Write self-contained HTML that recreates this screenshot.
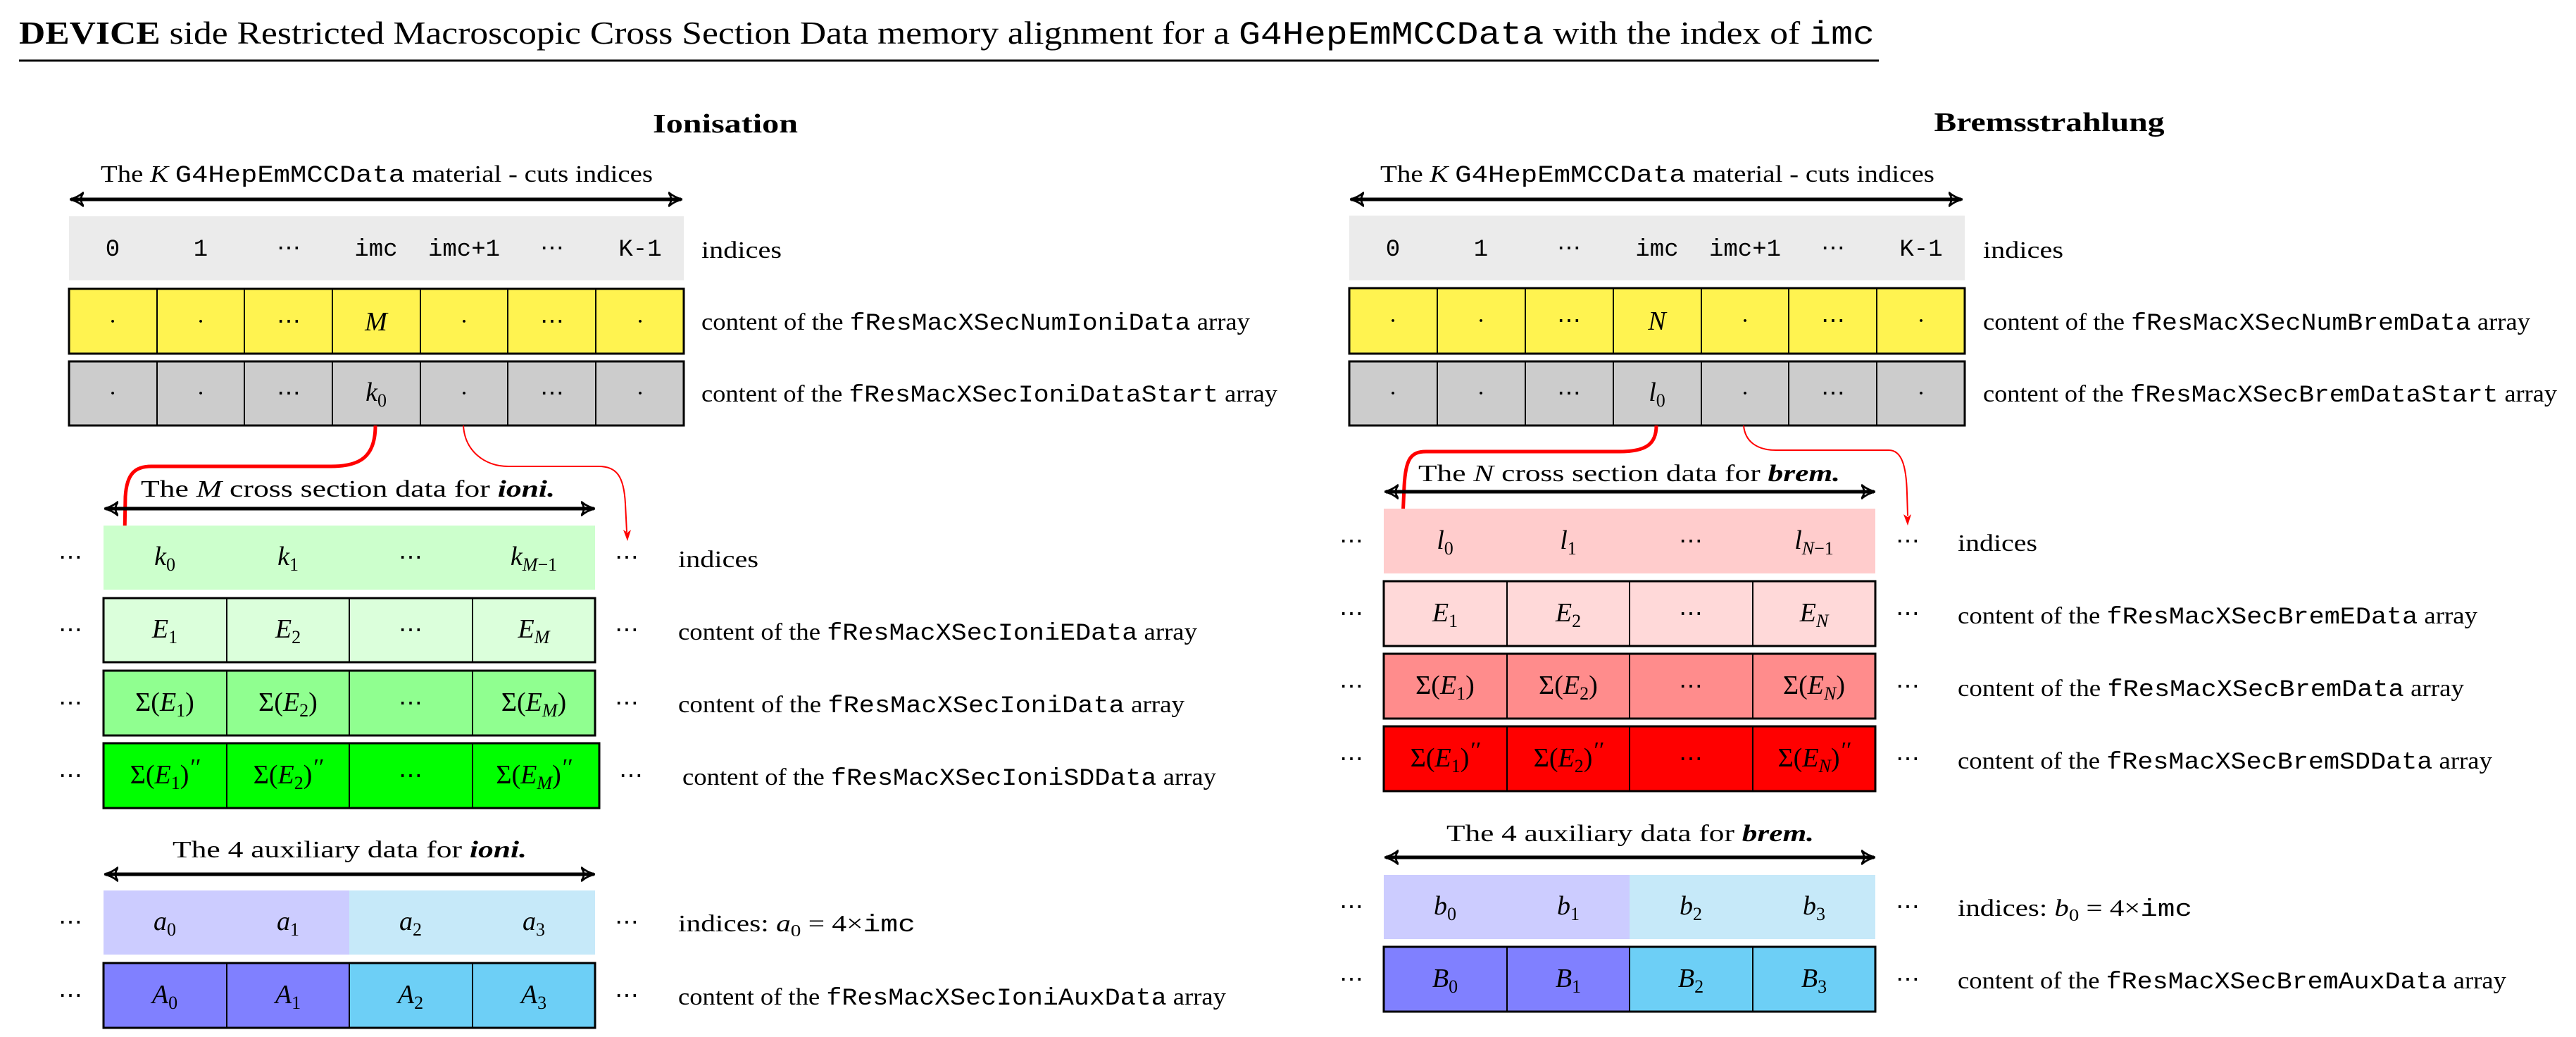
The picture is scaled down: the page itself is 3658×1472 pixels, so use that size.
<!DOCTYPE html>
<html><head><meta charset="utf-8"><style>
html,body{margin:0;padding:0;background:#fff;}
svg{display:block;}
text{font-family:"Liberation Serif",serif;fill:#000;}
.t{font-size:34px;}
.m{font-size:38px;font-style:italic;}
.mono{font-family:"Liberation Mono",monospace;}
.c{text-anchor:middle;}
.s{font-size:26px;font-style:italic;}
.n{font-style:normal;}
.p{font-size:34px;font-style:italic;}
</style></head><body>
<svg width="3658" height="1472" viewBox="0 0 3658 1472" xmlns="http://www.w3.org/2000/svg">
<defs>
<marker id="ah" viewBox="0 0 10 10" refX="9" refY="5" markerWidth="4" markerHeight="6" orient="auto-start-reverse" markerUnits="strokeWidth">
<path d="M0,0 Q4,5 0,10 M0,0 Q5,4 10,5 Q5,6 0,10" fill="none" stroke="#000" stroke-width="1.4"/></marker>
</defs>

<!-- Title -->
<text x="27" y="62" font-size="46" textLength="2635" lengthAdjust="spacingAndGlyphs"><tspan font-weight="bold">DEVICE</tspan> side Restricted Macroscopic Cross Section Data memory alignment for a <tspan class="mono">G4HepEmMCCData</tspan> with the index of <tspan class="mono">imc</tspan></text>
<line x1="27" y1="86" x2="2668" y2="86" stroke="#000" stroke-width="3"/>

<text x="1030" y="188" font-size="38" font-weight="bold" class="c" textLength="206" lengthAdjust="spacingAndGlyphs">Ionisation</text>
<text x="2910" y="186" font-size="38" font-weight="bold" class="c" textLength="327" lengthAdjust="spacingAndGlyphs">Bremsstrahlung</text>

<!-- ================= LEFT (Ionisation) ================= -->
<text x="143" y="258" class="t" textLength="784" lengthAdjust="spacingAndGlyphs">The <tspan font-style="italic">K</tspan> <tspan class="mono">G4HepEmMCCData</tspan> material - cuts indices</text>
<line x1="101" y1="283" x2="967" y2="283" stroke="#000" stroke-width="5" marker-start="url(#ah)" marker-end="url(#ah)"/>

<rect x="98" y="307" width="873" height="91" fill="#ebebeb"/>
<g class="t" font-size="32">
<text x="160" y="363" class="mono c">0</text><text x="285" y="363" class="mono c">1</text>
<text x="410" y="363" class="c">⋯</text><text x="534" y="363" class="mono c">imc</text>
<text x="659" y="363" class="mono c">imc+1</text><text x="784" y="363" class="c">⋯</text>
<text x="909" y="363" class="mono c">K-1</text></g>
<text x="996" y="366" class="t" textLength="114" lengthAdjust="spacingAndGlyphs">indices</text>

<rect x="98" y="410" width="873" height="92" fill="#fff350" stroke="#000" stroke-width="3"/>
<g stroke="#000" stroke-width="2"><line x1="223" y1="410" x2="223" y2="502"/><line x1="347" y1="410" x2="347" y2="502"/><line x1="472" y1="410" x2="472" y2="502"/><line x1="597" y1="410" x2="597" y2="502"/><line x1="721" y1="410" x2="721" y2="502"/><line x1="846" y1="410" x2="846" y2="502"/></g>
<g class="t"><text x="160" y="467" class="c">·</text><text x="285" y="467" class="c">·</text><text x="410" y="467" class="c">⋯</text><text x="534" y="469" class="m c">M</text><text x="659" y="467" class="c">·</text><text x="784" y="467" class="c">⋯</text><text x="909" y="467" class="c">·</text></g>
<text x="996" y="468" class="t" textLength="779" lengthAdjust="spacingAndGlyphs">content of the <tspan class="mono">fResMacXSecNumIoniData</tspan> array</text>

<rect x="98" y="513" width="873" height="91" fill="#cccccc" stroke="#000" stroke-width="3"/>
<g stroke="#000" stroke-width="2"><line x1="223" y1="513" x2="223" y2="604"/><line x1="347" y1="513" x2="347" y2="604"/><line x1="472" y1="513" x2="472" y2="604"/><line x1="597" y1="513" x2="597" y2="604"/><line x1="721" y1="513" x2="721" y2="604"/><line x1="846" y1="513" x2="846" y2="604"/></g>
<g class="t"><text x="160" y="569" class="c">·</text><text x="285" y="569" class="c">·</text><text x="410" y="569" class="c">⋯</text><text x="534" y="569" class="m c">k<tspan class="s n" dy="8">0</tspan></text><text x="659" y="569" class="c">·</text><text x="784" y="569" class="c">⋯</text><text x="909" y="569" class="c">·</text></g>
<text x="996" y="570" class="t" textLength="818" lengthAdjust="spacingAndGlyphs">content of the <tspan class="mono">fResMacXSecIoniDataStart</tspan> array</text>

<!-- red connectors left -->
<path d="M533,604 C533,648 512,662 470,662 L215,662 C192,662 180,672 178,705 L177,760" fill="none" stroke="#f00" stroke-width="5"/>
<polygon points="165,752 176,782 188,752 177,760" fill="#f00"/>
<path d="M658,604 C660,640 688,662 722,662 L850,662 C875,662 886,675 888,715 L890,755" fill="none" stroke="#f00" stroke-width="2"/>
<polygon points="885,752 891,768 896,752 891,756" fill="#f00"/>

<text x="200" y="705" class="t" textLength="588" lengthAdjust="spacingAndGlyphs">The <tspan font-style="italic">M</tspan> cross section data for <tspan font-style="italic" font-weight="bold">ioni.</tspan></text>
<line x1="150" y1="722" x2="843" y2="722" stroke="#000" stroke-width="5" marker-start="url(#ah)" marker-end="url(#ah)"/>

<!-- green rows -->
<rect x="147" y="746" width="698" height="91" fill="#ccffcc"/>
<rect x="147" y="849" width="698" height="91" fill="#dbffdb" stroke="#000" stroke-width="3"/>
<rect x="147" y="952" width="698" height="92" fill="#90ff90" stroke="#000" stroke-width="3"/>
<rect x="147" y="1055" width="704" height="92" fill="#00ff00" stroke="#000" stroke-width="3"/>
<g stroke="#000" stroke-width="2">
<line x1="322" y1="849" x2="322" y2="940"/><line x1="496" y1="849" x2="496" y2="940"/><line x1="671" y1="849" x2="671" y2="940"/>
<line x1="322" y1="952" x2="322" y2="1044"/><line x1="496" y1="952" x2="496" y2="1044"/><line x1="671" y1="952" x2="671" y2="1044"/>
<line x1="322" y1="1055" x2="322" y2="1147"/><line x1="496" y1="1055" x2="496" y2="1147"/><line x1="671" y1="1055" x2="671" y2="1147"/>
</g>
<g class="t">
<text x="100" y="802" class="c">⋯</text><text x="890" y="802" class="c">⋯</text>
<text x="100" y="905" class="c">⋯</text><text x="890" y="905" class="c">⋯</text>
<text x="100" y="1009" class="c">⋯</text><text x="890" y="1009" class="c">⋯</text>
<text x="100" y="1112" class="c">⋯</text><text x="896" y="1112" class="c">⋯</text>
<text x="583" y="802" class="c">⋯</text><text x="583" y="905" class="c">⋯</text><text x="583" y="1009" class="c">⋯</text><text x="583" y="1112" class="c">⋯</text>
</g>
<text x="234" y="802" class="m c">k<tspan class="s n" dy="8">0</tspan></text>
<text x="409" y="802" class="m c">k<tspan class="s n" dy="8">1</tspan></text>
<text x="758" y="802" class="m c">k<tspan class="s" dy="8">M</tspan><tspan class="s n">−1</tspan></text>
<text x="234" y="905" class="m c">E<tspan class="s n" dy="8">1</tspan></text>
<text x="409" y="905" class="m c">E<tspan class="s n" dy="8">2</tspan></text>
<text x="758" y="905" class="m c">E<tspan class="s" dy="8">M</tspan></text>
<text x="234" y="1009" class="m c"><tspan class="n">Σ(</tspan>E<tspan class="s n" dy="8">1</tspan><tspan class="n" dy="-8">)</tspan></text>
<text x="409" y="1009" class="m c"><tspan class="n">Σ(</tspan>E<tspan class="s n" dy="8">2</tspan><tspan class="n" dy="-8">)</tspan></text>
<text x="758" y="1009" class="m c"><tspan class="n">Σ(</tspan>E<tspan class="s" dy="8">M</tspan><tspan class="n" dy="-8">)</tspan></text>
<text x="234" y="1112" class="m c"><tspan class="n">Σ(</tspan>E<tspan class="s n" dy="8">1</tspan><tspan class="n" dy="-8">)</tspan><tspan class="p" dy="-12">′′</tspan></text>
<text x="409" y="1112" class="m c"><tspan class="n">Σ(</tspan>E<tspan class="s n" dy="8">2</tspan><tspan class="n" dy="-8">)</tspan><tspan class="p" dy="-12">′′</tspan></text>
<text x="758" y="1112" class="m c"><tspan class="n">Σ(</tspan>E<tspan class="s" dy="8">M</tspan><tspan class="n" dy="-8">)</tspan><tspan class="p" dy="-12">′′</tspan></text>
<text x="963" y="805" class="t" textLength="114" lengthAdjust="spacingAndGlyphs">indices</text>
<text x="963" y="908" class="t" textLength="737" lengthAdjust="spacingAndGlyphs">content of the <tspan class="mono">fResMacXSecIoniEData</tspan> array</text>
<text x="963" y="1011" class="t" textLength="719" lengthAdjust="spacingAndGlyphs">content of the <tspan class="mono">fResMacXSecIoniData</tspan> array</text>
<text x="969" y="1114" class="t" textLength="758" lengthAdjust="spacingAndGlyphs">content of the <tspan class="mono">fResMacXSecIoniSDData</tspan> array</text>

<!-- aux left -->
<text x="245" y="1217" class="t" textLength="503" lengthAdjust="spacingAndGlyphs">The 4 auxiliary data for <tspan font-style="italic" font-weight="bold">ioni.</tspan></text>
<line x1="150" y1="1241" x2="843" y2="1241" stroke="#000" stroke-width="5" marker-start="url(#ah)" marker-end="url(#ah)"/>
<rect x="147" y="1264" width="349" height="91" fill="#ccccff"/>
<rect x="496" y="1264" width="349" height="91" fill="#c6e9f9"/>
<rect x="147" y="1367" width="349" height="92" fill="#8080ff"/>
<rect x="496" y="1367" width="349" height="92" fill="#6dcff6"/>
<rect x="147" y="1367" width="698" height="92" fill="none" stroke="#000" stroke-width="3"/>
<g stroke="#000" stroke-width="2"><line x1="322" y1="1367" x2="322" y2="1459"/><line x1="496" y1="1367" x2="496" y2="1459"/><line x1="671" y1="1367" x2="671" y2="1459"/></g>
<g class="t"><text x="100" y="1320" class="c">⋯</text><text x="890" y="1320" class="c">⋯</text><text x="100" y="1424" class="c">⋯</text><text x="890" y="1424" class="c">⋯</text></g>
<text x="234" y="1320" class="m c">a<tspan class="s n" dy="8">0</tspan></text>
<text x="409" y="1320" class="m c">a<tspan class="s n" dy="8">1</tspan></text>
<text x="583" y="1320" class="m c">a<tspan class="s n" dy="8">2</tspan></text>
<text x="758" y="1320" class="m c">a<tspan class="s n" dy="8">3</tspan></text>
<text x="234" y="1424" class="m c">A<tspan class="s n" dy="8">0</tspan></text>
<text x="409" y="1424" class="m c">A<tspan class="s n" dy="8">1</tspan></text>
<text x="583" y="1424" class="m c">A<tspan class="s n" dy="8">2</tspan></text>
<text x="758" y="1424" class="m c">A<tspan class="s n" dy="8">3</tspan></text>
<text x="963" y="1322" class="t" textLength="337" lengthAdjust="spacingAndGlyphs">indices: <tspan font-style="italic">a</tspan><tspan font-size="24" dy="7">0</tspan><tspan dy="-7"> = 4×</tspan><tspan class="mono">imc</tspan></text>
<text x="963" y="1426" class="t" textLength="778" lengthAdjust="spacingAndGlyphs">content of the <tspan class="mono">fResMacXSecIoniAuxData</tspan> array</text>

<!-- ================= RIGHT (Brems) ================= -->
<text x="1960" y="258" class="t" textLength="787" lengthAdjust="spacingAndGlyphs">The <tspan font-style="italic">K</tspan> <tspan class="mono">G4HepEmMCCData</tspan> material - cuts indices</text>
<line x1="1919" y1="283" x2="2785" y2="283" stroke="#000" stroke-width="5" marker-start="url(#ah)" marker-end="url(#ah)"/>

<rect x="1916" y="306" width="874" height="92" fill="#ebebeb"/>
<g class="t" font-size="32">
<text x="1978" y="363" class="mono c">0</text><text x="2103" y="363" class="mono c">1</text>
<text x="2228" y="363" class="c">⋯</text><text x="2353" y="363" class="mono c">imc</text>
<text x="2478" y="363" class="mono c">imc+1</text><text x="2603" y="363" class="c">⋯</text>
<text x="2728" y="363" class="mono c">K-1</text></g>
<text x="2816" y="366" class="t" textLength="114" lengthAdjust="spacingAndGlyphs">indices</text>

<rect x="1916" y="409" width="874" height="93" fill="#fff350" stroke="#000" stroke-width="3"/>
<g stroke="#000" stroke-width="2"><line x1="2041" y1="409" x2="2041" y2="502"/><line x1="2166" y1="409" x2="2166" y2="502"/><line x1="2291" y1="409" x2="2291" y2="502"/><line x1="2416" y1="409" x2="2416" y2="502"/><line x1="2540" y1="409" x2="2540" y2="502"/><line x1="2665" y1="409" x2="2665" y2="502"/></g>
<g class="t"><text x="1978" y="466" class="c">·</text><text x="2103" y="466" class="c">·</text><text x="2228" y="466" class="c">⋯</text><text x="2353" y="468" class="m c">N</text><text x="2478" y="466" class="c">·</text><text x="2603" y="466" class="c">⋯</text><text x="2728" y="466" class="c">·</text></g>
<text x="2816" y="468" class="t" textLength="777" lengthAdjust="spacingAndGlyphs">content of the <tspan class="mono">fResMacXSecNumBremData</tspan> array</text>

<rect x="1916" y="513" width="874" height="91" fill="#cccccc" stroke="#000" stroke-width="3"/>
<g stroke="#000" stroke-width="2"><line x1="2041" y1="513" x2="2041" y2="604"/><line x1="2166" y1="513" x2="2166" y2="604"/><line x1="2291" y1="513" x2="2291" y2="604"/><line x1="2416" y1="513" x2="2416" y2="604"/><line x1="2540" y1="513" x2="2540" y2="604"/><line x1="2665" y1="513" x2="2665" y2="604"/></g>
<g class="t"><text x="1978" y="569" class="c">·</text><text x="2103" y="569" class="c">·</text><text x="2228" y="569" class="c">⋯</text><text x="2353" y="569" class="m c">l<tspan class="s n" dy="8">0</tspan></text><text x="2478" y="569" class="c">·</text><text x="2603" y="569" class="c">⋯</text><text x="2728" y="569" class="c">·</text></g>
<text x="2816" y="570" class="t" textLength="815" lengthAdjust="spacingAndGlyphs">content of the <tspan class="mono">fResMacXSecBremDataStart</tspan> array</text>

<path d="M2352,604 C2352,630 2338,641 2300,641 L2025,641 C2003,641 1996,652 1994,690 L1992,735" fill="none" stroke="#f00" stroke-width="5"/>
<polygon points="1980,728 1991,758 2003,728 1992,736" fill="#f00"/>
<path d="M2476,604 C2478,626 2494,639 2522,639 L2682,639 C2700,639 2707,660 2708,700 L2709,732" fill="none" stroke="#f00" stroke-width="2"/>
<polygon points="2703,730 2709,746 2714,730 2709,734" fill="#f00"/>

<text x="2014" y="683" class="t" textLength="599" lengthAdjust="spacingAndGlyphs">The <tspan font-style="italic">N</tspan> cross section data for <tspan font-style="italic" font-weight="bold">brem.</tspan></text>
<line x1="1968" y1="698" x2="2661" y2="698" stroke="#000" stroke-width="5" marker-start="url(#ah)" marker-end="url(#ah)"/>

<rect x="1965" y="722" width="698" height="92" fill="#ffcccc"/>
<rect x="1965" y="825" width="698" height="92" fill="#ffd9d9" stroke="#000" stroke-width="3"/>
<rect x="1965" y="928" width="698" height="92" fill="#ff8c8c" stroke="#000" stroke-width="3"/>
<rect x="1965" y="1031" width="698" height="92" fill="#ff0000" stroke="#000" stroke-width="3"/>
<g stroke="#000" stroke-width="2">
<line x1="2140" y1="825" x2="2140" y2="917"/><line x1="2314" y1="825" x2="2314" y2="917"/><line x1="2489" y1="825" x2="2489" y2="917"/>
<line x1="2140" y1="928" x2="2140" y2="1020"/><line x1="2314" y1="928" x2="2314" y2="1020"/><line x1="2489" y1="928" x2="2489" y2="1020"/>
<line x1="2140" y1="1031" x2="2140" y2="1123"/><line x1="2314" y1="1031" x2="2314" y2="1123"/><line x1="2489" y1="1031" x2="2489" y2="1123"/>
</g>
<g class="t">
<text x="1919" y="779" class="c">⋯</text><text x="2709" y="779" class="c">⋯</text>
<text x="1919" y="882" class="c">⋯</text><text x="2709" y="882" class="c">⋯</text>
<text x="1919" y="985" class="c">⋯</text><text x="2709" y="985" class="c">⋯</text>
<text x="1919" y="1088" class="c">⋯</text><text x="2709" y="1088" class="c">⋯</text>
<text x="2401" y="779" class="c">⋯</text><text x="2401" y="882" class="c">⋯</text><text x="2401" y="985" class="c">⋯</text><text x="2401" y="1088" class="c">⋯</text>
</g>
<text x="2052" y="779" class="m c">l<tspan class="s n" dy="8">0</tspan></text>
<text x="2227" y="779" class="m c">l<tspan class="s n" dy="8">1</tspan></text>
<text x="2576" y="779" class="m c">l<tspan class="s" dy="8">N</tspan><tspan class="s n">−1</tspan></text>
<text x="2052" y="882" class="m c">E<tspan class="s n" dy="8">1</tspan></text>
<text x="2227" y="882" class="m c">E<tspan class="s n" dy="8">2</tspan></text>
<text x="2576" y="882" class="m c">E<tspan class="s" dy="8">N</tspan></text>
<text x="2052" y="985" class="m c"><tspan class="n">Σ(</tspan>E<tspan class="s n" dy="8">1</tspan><tspan class="n" dy="-8">)</tspan></text>
<text x="2227" y="985" class="m c"><tspan class="n">Σ(</tspan>E<tspan class="s n" dy="8">2</tspan><tspan class="n" dy="-8">)</tspan></text>
<text x="2576" y="985" class="m c"><tspan class="n">Σ(</tspan>E<tspan class="s" dy="8">N</tspan><tspan class="n" dy="-8">)</tspan></text>
<text x="2052" y="1088" class="m c"><tspan class="n">Σ(</tspan>E<tspan class="s n" dy="8">1</tspan><tspan class="n" dy="-8">)</tspan><tspan class="p" dy="-12">′′</tspan></text>
<text x="2227" y="1088" class="m c"><tspan class="n">Σ(</tspan>E<tspan class="s n" dy="8">2</tspan><tspan class="n" dy="-8">)</tspan><tspan class="p" dy="-12">′′</tspan></text>
<text x="2576" y="1088" class="m c"><tspan class="n">Σ(</tspan>E<tspan class="s" dy="8">N</tspan><tspan class="n" dy="-8">)</tspan><tspan class="p" dy="-12">′′</tspan></text>
<text x="2780" y="782" class="t" textLength="113" lengthAdjust="spacingAndGlyphs">indices</text>
<text x="2780" y="885" class="t" textLength="738" lengthAdjust="spacingAndGlyphs">content of the <tspan class="mono">fResMacXSecBremEData</tspan> array</text>
<text x="2780" y="988" class="t" textLength="719" lengthAdjust="spacingAndGlyphs">content of the <tspan class="mono">fResMacXSecBremData</tspan> array</text>
<text x="2780" y="1091" class="t" textLength="759" lengthAdjust="spacingAndGlyphs">content of the <tspan class="mono">fResMacXSecBremSDData</tspan> array</text>

<text x="2054" y="1194" class="t" textLength="522" lengthAdjust="spacingAndGlyphs">The 4 auxiliary data for <tspan font-style="italic" font-weight="bold">brem.</tspan></text>
<line x1="1968" y1="1217" x2="2661" y2="1217" stroke="#000" stroke-width="5" marker-start="url(#ah)" marker-end="url(#ah)"/>
<rect x="1965" y="1242" width="349" height="91" fill="#ccccff"/>
<rect x="2314" y="1242" width="349" height="91" fill="#c6e9f9"/>
<rect x="1965" y="1344" width="349" height="92" fill="#8080ff"/>
<rect x="2314" y="1344" width="349" height="92" fill="#6dcff6"/>
<rect x="1965" y="1344" width="698" height="92" fill="none" stroke="#000" stroke-width="3"/>
<g stroke="#000" stroke-width="2"><line x1="2140" y1="1344" x2="2140" y2="1436"/><line x1="2314" y1="1344" x2="2314" y2="1436"/><line x1="2489" y1="1344" x2="2489" y2="1436"/></g>
<g class="t"><text x="1919" y="1298" class="c">⋯</text><text x="2709" y="1298" class="c">⋯</text><text x="1919" y="1401" class="c">⋯</text><text x="2709" y="1401" class="c">⋯</text></g>
<text x="2052" y="1298" class="m c">b<tspan class="s n" dy="8">0</tspan></text>
<text x="2227" y="1298" class="m c">b<tspan class="s n" dy="8">1</tspan></text>
<text x="2401" y="1298" class="m c">b<tspan class="s n" dy="8">2</tspan></text>
<text x="2576" y="1298" class="m c">b<tspan class="s n" dy="8">3</tspan></text>
<text x="2052" y="1401" class="m c">B<tspan class="s n" dy="8">0</tspan></text>
<text x="2227" y="1401" class="m c">B<tspan class="s n" dy="8">1</tspan></text>
<text x="2401" y="1401" class="m c">B<tspan class="s n" dy="8">2</tspan></text>
<text x="2576" y="1401" class="m c">B<tspan class="s n" dy="8">3</tspan></text>
<text x="2780" y="1300" class="t" textLength="333" lengthAdjust="spacingAndGlyphs">indices: <tspan font-style="italic">b</tspan><tspan font-size="24" dy="7">0</tspan><tspan dy="-7"> = 4×</tspan><tspan class="mono">imc</tspan></text>
<text x="2780" y="1403" class="t" textLength="779" lengthAdjust="spacingAndGlyphs">content of the <tspan class="mono">fResMacXSecBremAuxData</tspan> array</text>
</svg>
</body></html>
